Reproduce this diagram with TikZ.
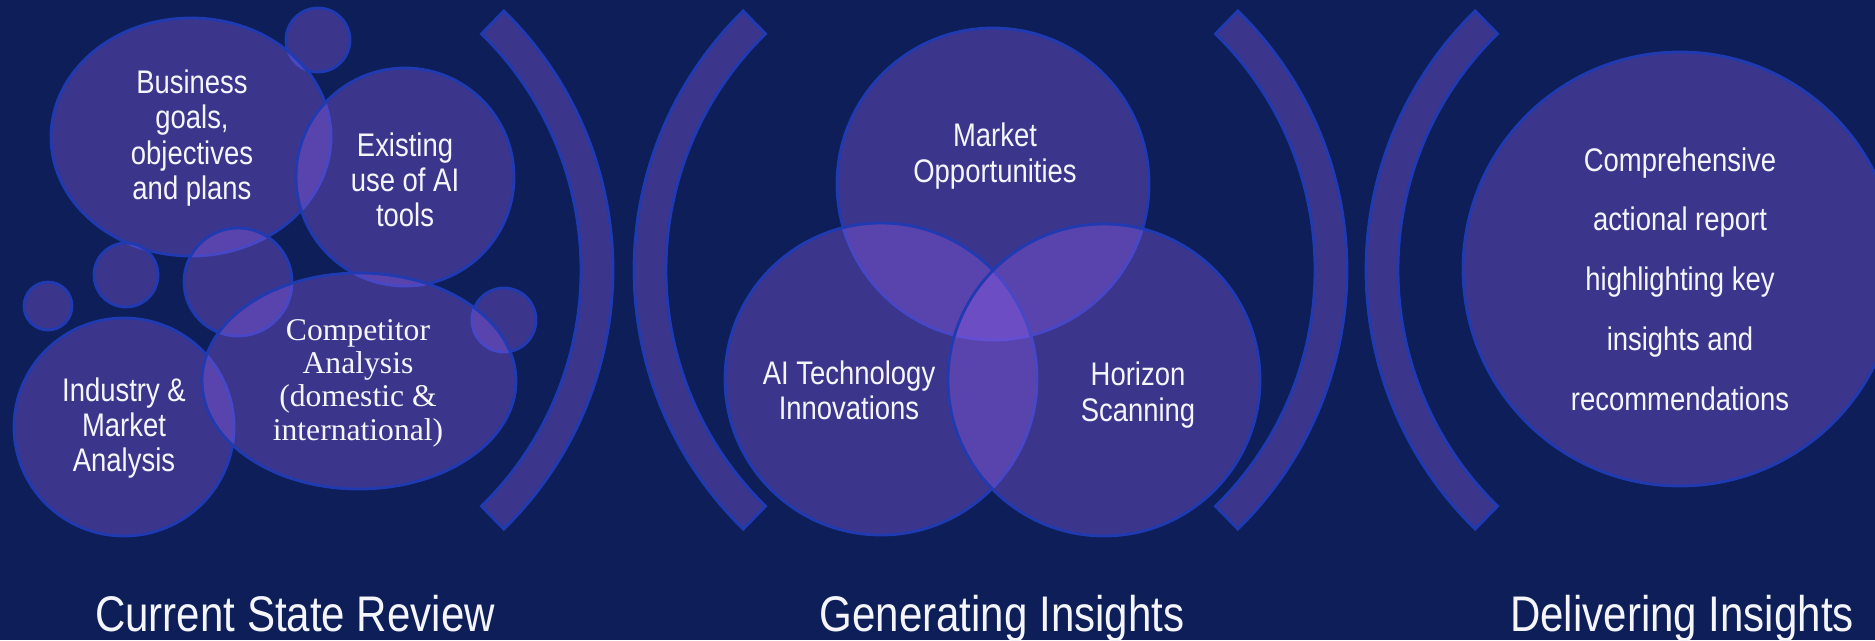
\documentclass[tikz,border=0pt]{standalone}
\usepackage{fontspec}
\newfontfamily\narrowfont{Liberation Sans}[FakeStretch=0.84]
\newfontfamily\romanfont{Liberation Serif}
\usetikzlibrary{calc}

\definecolor{navy}{RGB}{13,30,88}
\definecolor{bubblefill}{RGB}{147,96,237}
\definecolor{bubbleline}{RGB}{32,58,178}
\definecolor{textwhite}{RGB}{245,245,252}

\tikzset{
	bubble/.style={draw=bubbleline, line width=1.6pt, fill=bubblefill, fill opacity=0.35},
	band/.style={draw=bubbleline, line width=1.6pt, fill=bubblefill, fill opacity=0.35},
	bubbletext/.style={text=textwhite, align=center, font=\narrowfont\fontsize{18.6}{20}\selectfont},
	headtext/.style={text=textwhite, anchor=base, font=\narrowfont\fontsize{28.5}{32}\selectfont}
}

\begin{document}
\begin{tikzpicture}[x=0.02cm, y=-0.02cm]
		\fill[navy] (0,0) rectangle (1875,640);
		\useasboundingbox (0,0) rectangle (1875,640);
		\clip (0,0) rectangle (1875,640);
		
		% current state review
		\draw[bubble] (318,40) circle[radius=32];
		\draw[bubble] (191,137) ellipse[x radius=140, y radius=119];
		\draw[bubble] (405,177) circle[radius=109];
		\draw[bubble] (126,275) circle[radius=32];
		\draw[bubble] (48,306) circle[radius=24];
		\draw[bubble] (238,282) circle[radius=54];
		\draw[bubble] (504,320) circle[radius=32];
		\draw[bubble] (124,427) ellipse[x radius=110, y radius=109];
		\draw[bubble] (359,381) ellipse[x radius=157, y radius=108];
		
		\node[bubbletext] (goals) at (192,138) {Business\\goals,\\objectives\\and plans};
		\node[bubbletext] (aiuse) at (405,180) {Existing\\use of AI\\tools};
		\node[bubbletext] (industry) at (124,428) {Industry \&\\Market\\Analysis};
		\node[text=textwhite, align=center, font=\romanfont\fontsize{18}{19}\selectfont] (competitor) at (358,383) {Competitor\\Analysis\\(domestic \&\\international)};
		
		% brackets
		\coordinate (b1) at (251,270);
		\coordinate (b2) at (996,270);
		\coordinate (b3) at (985,270);
		\coordinate (b4) at (1728,270);
		\draw[band] ($(b1)+(45.7:362)$) arc[start angle=45.7, end angle=-45.7, radius=362] -- ($(b1)+(-45.7:330)$) arc[start angle=-45.7, end angle=45.7, radius=330] -- cycle;
		\draw[band] ($(b2)+(134.3:362)$) arc[start angle=134.3, end angle=225.7, radius=362] -- ($(b2)+(225.7:330)$) arc[start angle=225.7, end angle=134.3, radius=330] -- cycle;
		\draw[band] ($(b3)+(45.7:362)$) arc[start angle=45.7, end angle=-45.7, radius=362] -- ($(b3)+(-45.7:330)$) arc[start angle=-45.7, end angle=45.7, radius=330] -- cycle;
		\draw[band] ($(b4)+(134.3:362)$) arc[start angle=134.3, end angle=225.7, radius=362] -- ($(b4)+(225.7:330)$) arc[start angle=225.7, end angle=134.3, radius=330] -- cycle;
		
		% generating insights
		\draw[bubble] (993,184) circle[radius=156];
		\draw[bubble] (881,379) circle[radius=156];
		\draw[bubble] (1104,380) circle[radius=156];
		\node[bubbletext] (market) at (995,156) {Market\\Opportunities};
		\node[bubbletext] (aitech) at (849,390) {AI Technology\\Innovations};
		\node[bubbletext] (horizon) at (1138,395) {Horizon\\Scanning};
		
		% delivering insights
		\draw[bubble] (1680,269) circle[radius=217];
		\node[bubbletext, font=\narrowfont\fontsize{18.6}{34}\selectfont] (report) at (1680,279) {Comprehensive\\actional report\\highlighting key\\insights and\\recommendations};
		
		\node[headtext] (review) at (295,631) {Current State Review};
		\node[headtext] (generating) at (1002,631) {Generating Insights};
		\node[headtext] (delivering) at (1682,631) {Delivering Insights};
		\end{tikzpicture}
\end{document}
